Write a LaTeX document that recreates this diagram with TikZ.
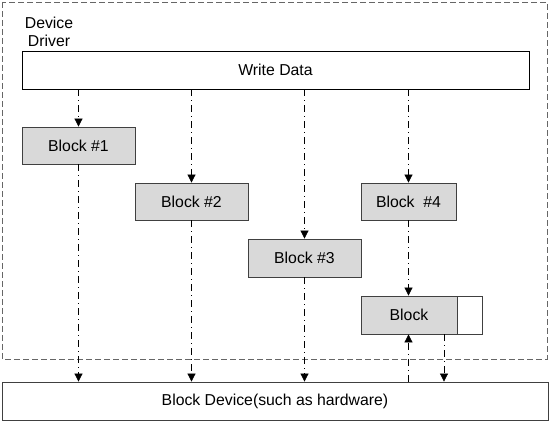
\documentclass[tikz,border=0pt]{standalone}
\usepackage{fontspec}
\setmainfont{Liberation Sans}
\usetikzlibrary{arrows.meta}
\definecolor{blkgray}{HTML}{D9D9D9}
\definecolor{edgegray}{HTML}{404040}
\begin{document}
\begin{tikzpicture}[x=1pt,y=-1pt,
  every node/.style={font=\fontsize{15.8}{18.5}\selectfont},
  box/.style={draw=black,line width=0.8pt,inner sep=0pt,fill=white},
  blockbox/.style={draw=edgegray,line width=0.8pt,inner sep=0pt,fill=blkgray,minimum height=37pt},
  flow/.style={line width=0.7pt,dash pattern=on 7pt off 4pt on 1pt off 4pt,-{Triangle[width=8pt,length=8pt]}},
  frame/.style={draw=black!60,line width=0.9pt,dash pattern=on 6pt off 3pt}
]
\useasboundingbox (0,0) rectangle (550,422);
\draw[frame] (2,2) rectangle (547,359);
\node[align=center,inner sep=0pt] (dd) at (49,32) {Device\\Driver};
\node[box,minimum width=507pt,minimum height=38pt] (wd) at (275.5,70) {Write Data};
\node[blockbox,minimum width=113pt] (b1) at (78.5,145.5) {Block \#1};
\node[blockbox,minimum width=113pt] (b2) at (191.5,201.5) {Block \#2};
\node[blockbox,minimum width=113pt,minimum height=38pt] (b3) at (304.5,258) {Block \#3};
\node[blockbox,minimum width=95pt] (b4) at (408.5,201.5) {Block \ \#4};
\node[blockbox,minimum width=96pt,minimum height=38pt] (blk) at (409,315) {Block};
\node[draw=edgegray,line width=0.8pt,fill=white,inner sep=0pt,minimum width=25pt,minimum height=38pt,anchor=west] (slot) at (blk.east) {};
\node[box,draw=edgegray,minimum width=546pt,minimum height=38pt] (bd) at (275,401) {Block Device(such as hardware)};
\coordinate (dn) at (444,0);
\draw[flow] (wd.south -| b1) -- (b1.north);
\draw[flow] (wd.south -| b2) -- (b2.north);
\draw[flow] (wd.south -| b3) -- (b3.north);
\draw[flow] (wd.south -| b4) -- (b4.north);
\draw[flow] (b1.south) -- (bd.north -| b1);
\draw[flow] (b2.south) -- (bd.north -| b2);
\draw[flow] (b3.south) -- (bd.north -| b3);
\draw[flow] (b4.south) -- (blk.north -| b4);
\draw[flow] (bd.north -| b4) -- (blk.south -| b4);
\draw[flow] (blk.south -| dn) -- (bd.north -| dn);
\end{tikzpicture}
\end{document}
